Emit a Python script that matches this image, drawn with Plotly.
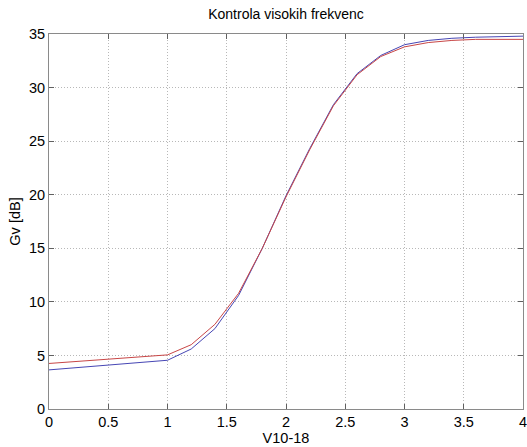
import plotly.graph_objects as go

x_vals = [0, 1, 1.2, 1.4, 1.6, 1.8, 2.0, 2.2, 2.4, 2.6, 2.8, 3.0, 3.2, 3.4, 3.6, 3.8, 4.0]
red_vals = [4.25, 5.05, 6.0, 7.9, 10.8, 15.0, 19.8, 24.2, 28.3, 31.2, 32.9, 33.8, 34.2, 34.4, 34.5, 34.5, 34.5]
blue_vals = [3.65, 4.55, 5.6, 7.5, 10.6, 15.0, 19.9, 24.3, 28.4, 31.3, 33.0, 34.0, 34.4, 34.6, 34.7, 34.75, 34.8]

x_ticks = [0, 0.5, 1, 1.5, 2, 2.5, 3, 3.5, 4]
y_ticks = [0, 5, 10, 15, 20, 25, 30, 35]

fig = go.Figure()
fig.add_trace(go.Scatter(x=x_vals, y=blue_vals, mode="lines",
                         line=dict(color="rgb(70,70,180)", width=1)))
fig.add_trace(go.Scatter(x=x_vals, y=red_vals, mode="lines",
                         line=dict(color="rgb(200,70,70)", width=1)))

font = "Liberation Sans, Arial, sans-serif"
axis_common = dict(
    showline=True, linecolor="#8a8a8a", linewidth=1, mirror="allticks",
    ticks="inside", ticklen=5, tickcolor="#606060",
    showgrid=True, gridcolor="#b8b8b8", griddash="1px,2px", gridwidth=1,
    zeroline=False, tickfont=dict(family=font, size=14.5, color="black"),
    ticklabeloverflow="allow",
)

fig.update_layout(
    width=527, height=447,
    margin=dict(l=49, r=4, t=34, b=38, autoexpand=False),
    paper_bgcolor="white", plot_bgcolor="white",
    showlegend=False,
    title=dict(text="Kontrola visokih frekvenc", x=(49 + 523) / 2 / 527, xanchor="center",
               y=1 - 14 / 447, yanchor="middle",
               font=dict(family=font, size=14, color="black")),
    xaxis=dict(range=[0, 4], tickvals=x_ticks, ticktext=[str(v) for v in x_ticks],
               title=dict(text="V10-18", standoff=0, font=dict(family=font, size=14.5, color="black")),
               **axis_common),
    yaxis=dict(range=[0, 35], tickvals=y_ticks,
               title=dict(text="Gv [dB]", standoff=4, font=dict(family=font, size=14.5, color="black")),
               **axis_common),
)

fig.write_html("out.html")
